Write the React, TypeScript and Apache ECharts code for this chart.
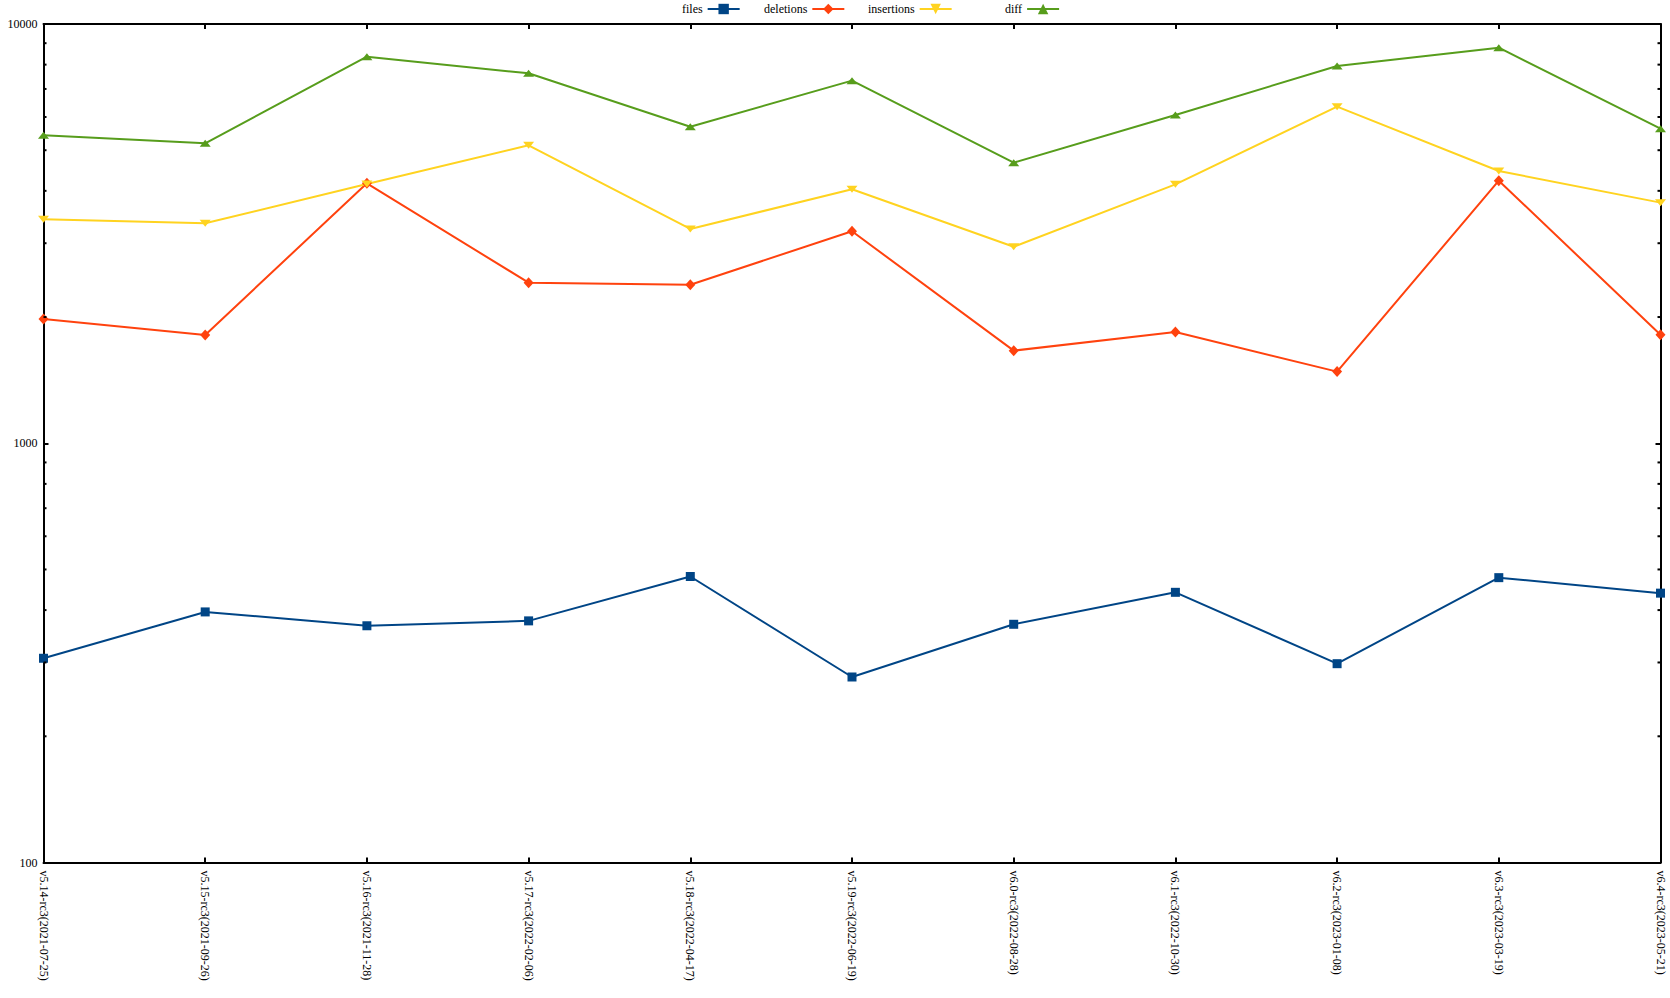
import React, { useEffect, useRef } from "react";
import * as echarts from "echarts";

const categories = [
  "v5.14-rc3(2021-07-25)",
  "v5.15-rc3(2021-09-26)",
  "v5.16-rc3(2021-11-28)",
  "v5.17-rc3(2022-02-06)",
  "v5.18-rc3(2022-04-17)",
  "v5.19-rc3(2022-06-19)",
  "v6.0-rc3(2022-08-28)",
  "v6.1-rc3(2022-10-30)",
  "v6.2-rc3(2023-01-08)",
  "v6.3-rc3(2023-03-19)",
  "v6.4-rc3(2023-05-21)",
];
const files = [307, 396, 367, 377, 481, 277, 370, 441, 298, 478, 439];
const deletions = [1979, 1813, 4169, 2415, 2389, 3203, 1663, 1842, 1482, 4229, 1815];
const insertions = [3421, 3347, 4154, 5137, 3244, 4034, 2943, 4146, 6352, 4460, 3749];
const diff = [5426, 5194, 8356, 7628, 5689, 7326, 4669, 6067, 7941, 8780, 5628];
const yMin = 100;
const yMax = 10000;
const minorTicks = [200, 300, 400, 500, 600, 700, 800, 900, 2000, 3000, 4000, 5000, 6000, 7000, 8000, 9000];

const FONT = "'Liberation Serif', 'DejaVu Serif', serif";

export default function App() {
  const ref = useRef<HTMLDivElement>(null);
  useEffect(() => {
    if (!ref.current) return;
    const chart = echarts.init(ref.current, null, { renderer: "svg" });
    const axisLine = { show: true, onZero: false, lineStyle: { color: "#000", width: 2 } };
    const legendBase = {
      top: 3,
      padding: 0,
      align: "right",
      itemWidth: 32,
      itemHeight: 13,
      itemGap: 6,
      textStyle: { fontFamily: FONT, fontSize: 12, color: "#000" },
    };
    const lineSeries = (name: string, data: number[], color: string, symbol: string, size: any, rotate = 0) => ({
      name,
      type: "line",
      data,
      symbol,
      symbolSize: size,
      symbolRotate: rotate,
      showSymbol: true,
      lineStyle: { color, width: 2 },
      itemStyle: { color },
      xAxisIndex: 0,
      yAxisIndex: 0,
      z: 3,
    });
    chart.setOption({
      animation: false,
      backgroundColor: "#fff",
      textStyle: { fontFamily: FONT },
      grid: { left: 43.5, right: 9.5, top: 24, bottom: 135.5, containLabel: false },
      legend: [
        { ...legendBase, left: 682, data: ["files"] },
        { ...legendBase, left: 764, data: ["deletions"] },
        { ...legendBase, left: 868, data: ["insertions"] },
        { ...legendBase, left: 1005, data: ["diff"] },
      ],
      xAxis: [
        {
          type: "category",
          data: categories,
          boundaryGap: false,
          position: "bottom",
          axisLine,
          axisTick: { show: true, inside: true, length: 5, interval: 0, lineStyle: { color: "#000", width: 2 } },
          axisLabel: {
            interval: 0,
            rotate: -90,
            margin: 8,
            fontFamily: FONT,
            fontSize: 12,
            color: "#000",
          },
          splitLine: { show: false },
        },
        {
          type: "category",
          data: categories,
          boundaryGap: false,
          position: "top",
          axisLine,
          axisTick: { show: true, inside: true, length: 5, interval: 0, lineStyle: { color: "#000", width: 2 } },
          axisLabel: { show: false },
          splitLine: { show: false },
        },
      ],
      yAxis: [
        {
          type: "log",
          logBase: 10,
          min: yMin,
          max: yMax,
          position: "left",
          axisLine,
          axisTick: { show: true, inside: true, length: 5, lineStyle: { color: "#000", width: 2 } },
          axisLabel: {
            margin: 6,
            fontFamily: FONT,
            fontSize: 12,
            color: "#000",
            formatter: (v: number) => String(Math.round(v)),
          },
          splitLine: { show: false },
        },
        {
          type: "log",
          logBase: 10,
          min: yMin,
          max: yMax,
          position: "right",
          axisLine,
          axisTick: { show: true, inside: true, length: 5, lineStyle: { color: "#000", width: 2 } },
          axisLabel: { show: false },
          splitLine: { show: false },
        },
      ],
      series: [
        lineSeries("files", files, "#004586", "rect", [9, 9]),
        lineSeries("deletions", deletions, "#ff420e", "diamond", [10, 11]),
        lineSeries("insertions", insertions, "#ffd320", "triangle", [11, 7], 180),
        lineSeries("diff", diff, "#579d1c", "triangle", [11, 7]),
        {
          type: "custom",
          name: "minorTicks",
          xAxisIndex: 0,
          yAxisIndex: 0,
          data: minorTicks.map((v) => [0, v]),
          silent: true,
          z: 4,
          renderItem: (params: any, api: any) => {
            const cs = params.coordSys;
            const y = api.coord([0, api.value(1)])[1];
            return {
              type: "group",
              children: [
                { type: "line", shape: { x1: cs.x, y1: y, x2: cs.x + 3, y2: y }, style: { stroke: "#000", lineWidth: 2 } },
                {
                  type: "line",
                  shape: { x1: cs.x + cs.width - 3, y1: y, x2: cs.x + cs.width, y2: y },
                  style: { stroke: "#000", lineWidth: 2 },
                },
              ],
            };
          },
        },
      ],
    });
    return () => chart.dispose();
  }, []);
  return (
    <div
      ref={ref}
      style={{ position: "fixed", left: 0, top: 0, width: 1670, height: 998, background: "#fff" }}
    />
  );
}
